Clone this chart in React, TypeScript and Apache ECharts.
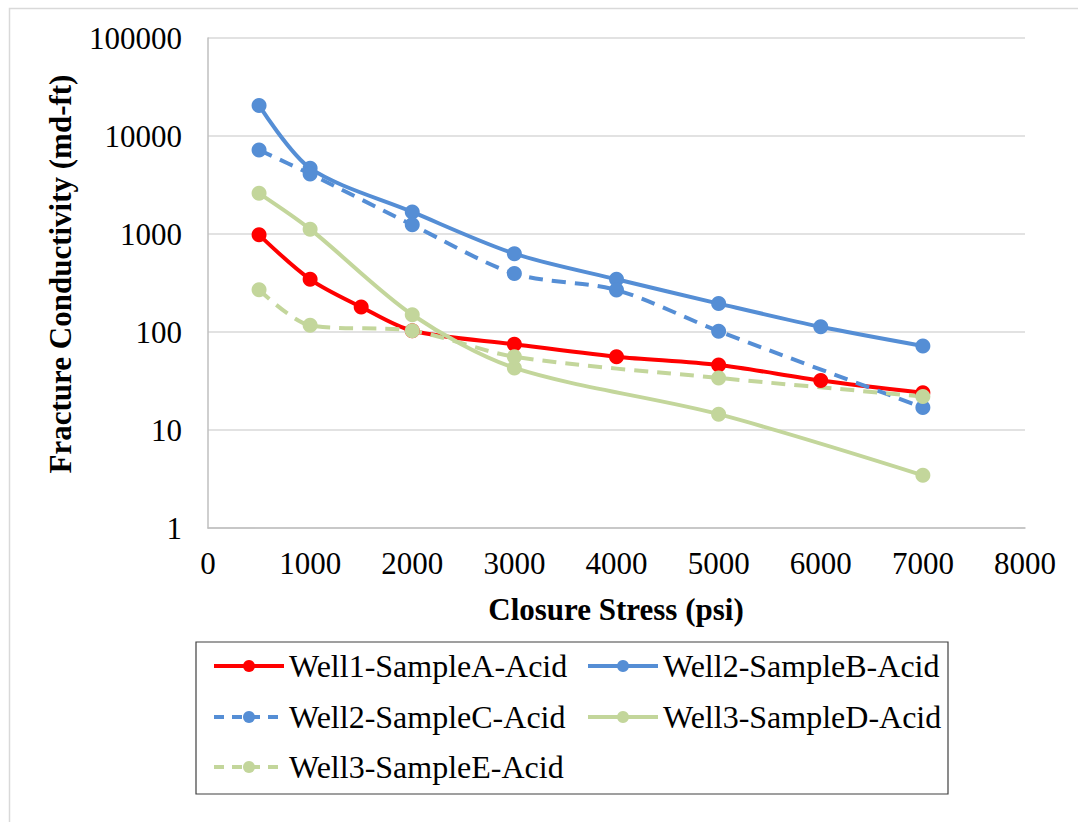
import React, { useEffect, useRef } from "react";
import * as echarts from "echarts";

const seriesNames = [
  "Well1-SampleA-Acid",
  "Well2-SampleB-Acid",
  "Well2-SampleC-Acid",
  "Well3-SampleD-Acid",
  "Well3-SampleE-Acid",
];

const wellA: [number, number][] = [
  [500, 980], [1000, 345], [1500, 180], [2000, 103], [3000, 75],
  [4000, 56], [5000, 46], [6000, 32], [7000, 24],
];
const wellB: [number, number][] = [
  [500, 20500], [1000, 4700], [2000, 1680], [3000, 630], [4000, 345],
  [5000, 195], [6000, 113], [7000, 72],
];
const wellC: [number, number][] = [
  [500, 7200], [1000, 4100], [2000, 1240], [3000, 395], [4000, 268],
  [5000, 102], [7000, 17],
];
const wellD: [number, number][] = [
  [500, 2600], [1000, 1120], [2000, 150], [3000, 43], [5000, 14.5], [7000, 3.45],
];
const wellE: [number, number][] = [
  [500, 270], [1000, 117], [2000, 103], [3000, 56], [5000, 34], [7000, 22],
];

const seriesData = [wellA, wellB, wellC, wellD, wellE];
const colors = ["#FF0000", "#558ED5", "#558ED5", "#C3D69B", "#C3D69B"];
const dashed = [false, false, true, false, true];

const xAxisTitle = "Closure Stress (psi)";
const yAxisTitle = "Fracture Conductivity (md-ft)";

const FONT = "'Liberation Serif', 'Times New Roman', serif";

export default function App() {
  const ref = useRef<HTMLDivElement>(null);

  useEffect(() => {
    if (!ref.current) return;
    const chart = echarts.init(ref.current, null, { renderer: "svg" });

    const legendPos = [
      { left: 212, top: 650 },
      { left: 586, top: 650 },
      { left: 212, top: 701 },
      { left: 586, top: 701 },
      { left: 212, top: 751 },
    ];

    const option: any = {
      animation: false,
      backgroundColor: "#ffffff",
      grid: { left: 208, right: 53, top: 38, bottom: 294, containLabel: false },
      xAxis: {
        type: "value",
        min: 0,
        max: 8000,
        interval: 1000,
        axisLine: { show: true, lineStyle: { color: "#bfbfbf", width: 1.5 } },
        axisTick: { show: false },
        splitLine: { show: false },
        axisLabel: {
          color: "#000",
          fontSize: 31,
          fontFamily: FONT,
          margin: 20,
          formatter: (v: number) => String(v),
        },
      },
      yAxis: {
        type: "log",
        logBase: 10,
        min: 1,
        max: 100000,
        axisLine: { show: true, lineStyle: { color: "#bfbfbf", width: 1.5 } },
        axisTick: { show: false },
        splitLine: { show: true, lineStyle: { color: "#d9d9d9", width: 1.5 } },
        axisLabel: {
          color: "#000",
          fontSize: 31,
          fontFamily: FONT,
          margin: 26,
          formatter: (v: number) => String(Math.round(v)),
        },
      },
      legend: seriesNames.map((n, i) => ({
        data: [n],
        left: legendPos[i].left,
        top: legendPos[i].top,
        padding: 0,
        itemWidth: 70,
        itemHeight: 15,
        itemGap: 0,
        lineStyle: {
          width: 4,
          color: colors[i],
          type: dashed[i] ? [10, 8] : "solid",
        },
        textStyle: { color: "#000", fontSize: 32, fontFamily: FONT },
      })),
      graphic: [
        {
          type: "rect",
          left: 7,
          top: 6,
          shape: { x: 0, y: 0, width: 1200, height: 1000 },
          style: { fill: "none", stroke: "#d9d9d9", lineWidth: 1.5 },
          silent: true,
          z: -10,
        },
        {
          type: "rect",
          shape: { x: 196, y: 642, width: 752, height: 152 },
          style: { fill: "none", stroke: "#404040", lineWidth: 1.2 },
          silent: true,
        },
        {
          type: "text",
          x: 616,
          y: 609,
          style: {
            text: xAxisTitle,
            font: `bold 31px ${FONT}`,
            fill: "#000",
            textAlign: "center",
            textVerticalAlign: "middle",
          },
        },
        {
          type: "text",
          x: 60,
          y: 274,
          rotation: Math.PI / 2,
          style: {
            text: yAxisTitle,
            font: `bold 31px ${FONT}`,
            fill: "#000",
            textAlign: "center",
            textVerticalAlign: "middle",
          },
        },
      ],
      series: seriesNames.map((n, i) => ({
        name: n,
        type: "line",
        data: seriesData[i],
        smooth: 0.3,
        symbol: "circle",
        symbolSize: 15,
        color: colors[i],
        lineStyle: {
          color: colors[i],
          width: 4,
          type: dashed[i] ? [14, 9] : "solid",
        },
        itemStyle: { color: colors[i] },
      })),
    };

    chart.setOption(option);
    return () => chart.dispose();
  }, []);

  return (
    <div
      ref={ref}
      style={{ position: "absolute", left: 0, top: 0, width: 1078, height: 822 }}
    />
  );
}
